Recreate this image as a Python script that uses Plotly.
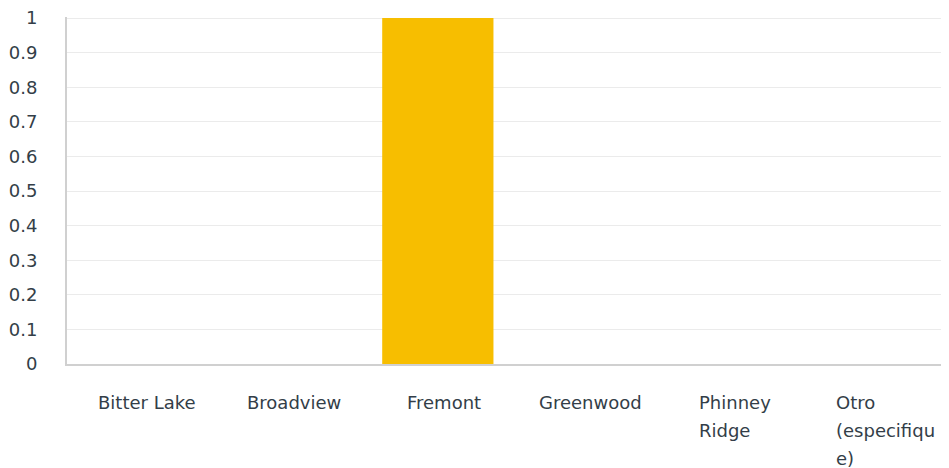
import plotly.graph_objects as go

categories = ["Bitter Lake", "Broadview", "Fremont", "Greenwood", "Phinney Ridge", "Otro (especifique)"]
label_lines = [["Bitter Lake"], ["Broadview"], ["Fremont"], ["Greenwood"], ["Phinney", "Ridge"], ["Otro", "(especifiqu", "e)"]]
values = [0, 0, 1, 0, 0, 0]
y_ticks = [0, 0.1, 0.2, 0.3, 0.4, 0.5, 0.6, 0.7, 0.8, 0.9, 1]
y_tick_text = ["0", "0.1", "0.2", "0.3", "0.4", "0.5", "0.6", "0.7", "0.8", "0.9", "1"]

FONT = "DejaVu Sans, sans-serif"
TXT = "#333e48"
# horizontal nudges for the category labels (style only)
label_xshift = [6, 4, 6, 4, -38, -49]

fig = go.Figure(go.Bar(x=list(range(len(categories))), y=values, marker_color="#F7BE00",
                       marker_line_width=0, hovertext=categories))

annotations = []
for i, lines in enumerate(label_lines):
    multi = len(lines) > 1
    for j, line in enumerate(lines):
        annotations.append(dict(
            x=i, y=0, xref="x", yref="paper", text=line, showarrow=False,
            xanchor="left" if multi else "center", yanchor="top", align="left",
            xshift=label_xshift[i],
            yshift=-26 - 28 * j,
            font=dict(family=FONT, size=18, color=TXT)))

fig.update_layout(
    width=949, height=468,
    margin=dict(l=59, r=0, t=9, b=112, autoexpand=False),
    paper_bgcolor="white", plot_bgcolor="white",
    bargap=0.25, showlegend=False,
    annotations=annotations,
    xaxis=dict(range=[-0.5, 5.5], showticklabels=False, showgrid=False, zeroline=False,
               showline=True, linecolor="#d0d0d0", linewidth=2, fixedrange=True),
    yaxis=dict(range=[0, 1.003], tickvals=y_ticks, ticktext=y_tick_text, showgrid=True,
               gridcolor="#ebebeb", gridwidth=1, zeroline=False, showline=True,
               linecolor="#d0d0d0", linewidth=2, ticklabelstandoff=24,
               ticklabeloverflow="allow",
               tickfont=dict(family=FONT, size=18, color=TXT)),
)

fig.write_html("out.html")
